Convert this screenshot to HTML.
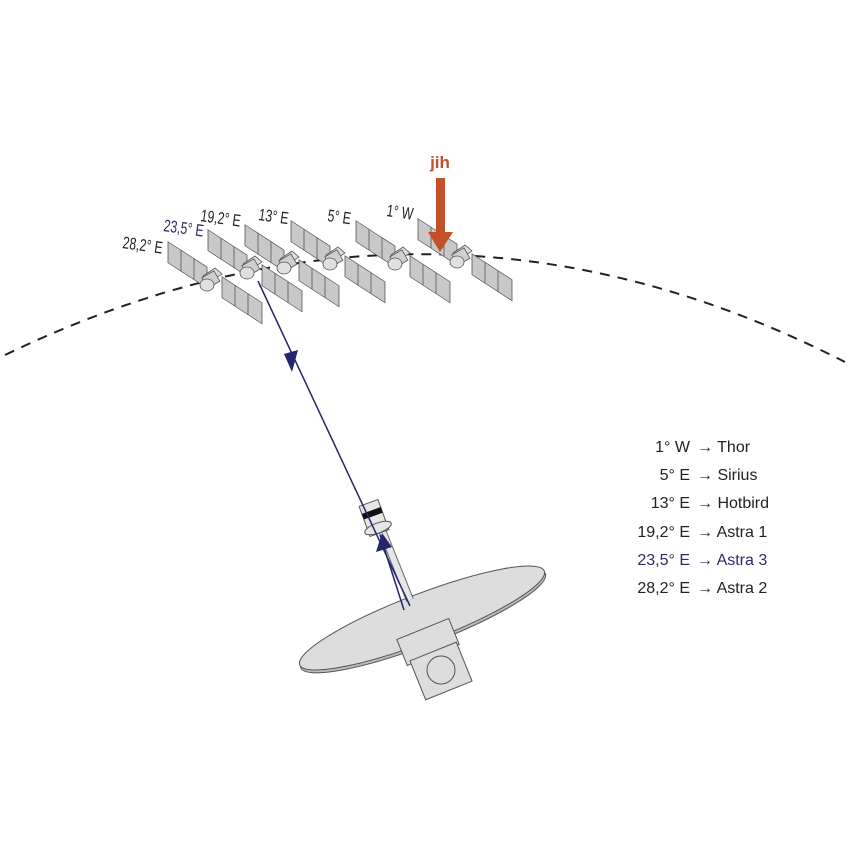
<!DOCTYPE html>
<html><head><style>body{margin:0;background:#fff}svg{display:block}</style></head><body>
<svg width="850" height="850" viewBox="0 0 850 850" xmlns="http://www.w3.org/2000/svg" font-family="Liberation Sans, sans-serif">
<defs>
<g id="sat">
  <g transform="skewY(33)">
    <rect x="-42" y="-11" width="39" height="21" fill="#c8c8c8" stroke="#555" stroke-width="0.8"/>
    <line x1="-29" y1="-11" x2="-29" y2="10" stroke="#555" stroke-width="0.8"/>
    <line x1="-16" y1="-11" x2="-16" y2="10" stroke="#555" stroke-width="0.8"/>
    <rect x="12" y="-11" width="40" height="21" fill="#c8c8c8" stroke="#555" stroke-width="0.8"/>
    <line x1="25" y1="-11" x2="25" y2="10" stroke="#555" stroke-width="0.8"/>
    <line x1="38" y1="-11" x2="38" y2="10" stroke="#555" stroke-width="0.8"/>
  </g>
  <polygon points="-7,-4 5,-12 12,-6 0,2" fill="#ddd" stroke="#555" stroke-width="0.8"/>
  <rect x="-6" y="-6" width="14" height="12" fill="#cfcfcf" stroke="#555" stroke-width="0.8" transform="rotate(-30)"/>
  <ellipse cx="-3" cy="5" rx="7" ry="6" fill="#e0e0e0" stroke="#555" stroke-width="0.8"/>
</g>
</defs>
<path d="M5,355 Q430,150 845,362" fill="none" stroke="#222" stroke-width="2" stroke-dasharray="10,8"/>
<use href="#sat" x="210" y="280"/>
<use href="#sat" x="250" y="268"/>
<use href="#sat" x="287" y="263"/>
<use href="#sat" x="333" y="259"/>
<use href="#sat" x="398" y="259"/>
<use href="#sat" x="460" y="257"/>
<g font-size="17" fill="#222">
<text transform="translate(122,248) rotate(8) scale(0.72,1)">28,2° E</text>
<text transform="translate(163,231) rotate(8) scale(0.72,1)" fill="#2a2a6e">23,5° E</text>
<text transform="translate(200,221) rotate(8) scale(0.72,1)">19,2° E</text>
<text transform="translate(258,220) rotate(8) scale(0.72,1)">13° E</text>
<text transform="translate(327,221) rotate(8) scale(0.72,1)">5° E</text>
<text transform="translate(386,216) rotate(8) scale(0.72,1)">1° W</text>
</g>
<text x="440" y="168" font-size="17" font-weight="bold" fill="#c4502a" text-anchor="middle">jih</text>
<rect x="436" y="178" width="9" height="56" fill="#c4502a"/>
<polygon points="428,232 453,232 440,252" fill="#c4502a"/>
<!-- dish -->
<g transform="translate(422,618) rotate(-21)">
  <ellipse cx="0" cy="3" rx="131" ry="24" fill="#bbb" stroke="#555"/>
  <ellipse cx="0" cy="0" rx="131" ry="24" fill="#ddd" stroke="#555"/>
</g>
<rect x="400" y="628" width="56" height="28" fill="#ddd" stroke="#555" transform="rotate(-22 428 642)"/>
<rect x="416" y="650" width="50" height="42" fill="#ddd" stroke="#555" transform="rotate(-22 441 671)"/>
<circle cx="441" cy="670" r="14" fill="#ddd" stroke="#555"/>
<line x1="378" y1="520" x2="410" y2="600" stroke="#666" stroke-width="8"/>
<line x1="378" y1="520" x2="410" y2="600" stroke="#e6e6e6" stroke-width="6"/>
<rect x="364" y="502" width="20" height="32" fill="#e6e6e6" stroke="#555" transform="rotate(-20 374 518)"/>
<rect x="364" y="510" width="20" height="6" fill="#111" transform="rotate(-20 374 518)"/>
<ellipse cx="378" cy="528" rx="14" ry="5" fill="#e6e6e6" stroke="#555" transform="rotate(-20 378 528)"/>
<!-- blue rays -->
<line x1="258" y1="281" x2="410" y2="606" stroke="#25256e" stroke-width="1.5"/>
<polygon points="292,372 284,354 298,350" fill="#25256e"/>
<line x1="404" y1="610" x2="380" y2="535" stroke="#25256e" stroke-width="1.5"/>
<polygon points="382,533 376,552 392,547" fill="#25256e"/>
<g font-size="16" fill="#222">
<text x="690" y="452" text-anchor="end">1° W</text><text x="697" y="452">→ Thor</text>
<text x="690" y="480" text-anchor="end">5° E</text><text x="697" y="480">→ Sirius</text>
<text x="690" y="508" text-anchor="end">13° E</text><text x="697" y="508">→ Hotbird</text>
<text x="690" y="537" text-anchor="end">19,2° E</text><text x="697" y="537">→ Astra 1</text>
<text x="690" y="565" text-anchor="end" fill="#2a2a6e">23,5° E</text><text x="697" y="565" fill="#2a2a6e">→ Astra 3</text>
<text x="690" y="593" text-anchor="end">28,2° E</text><text x="697" y="593">→ Astra 2</text>
</g>
</svg>
</body></html>
